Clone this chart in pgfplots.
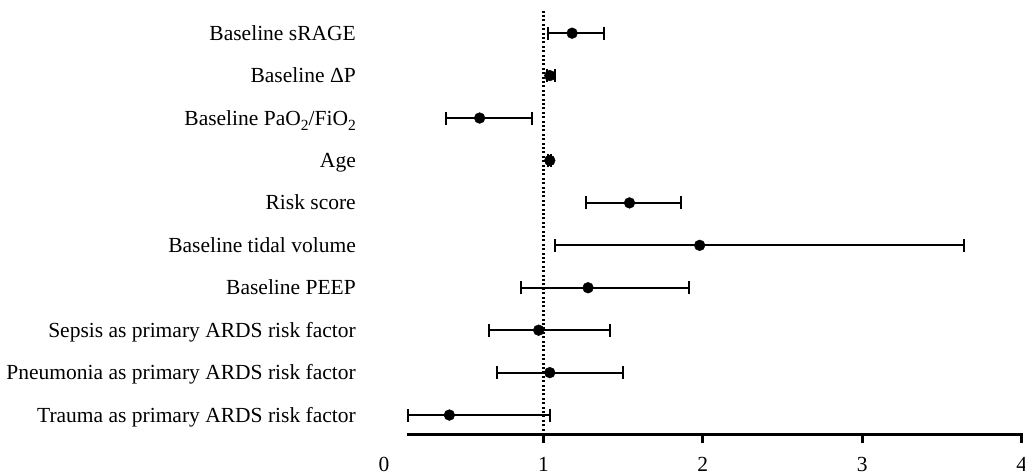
\documentclass[border=0pt]{standalone}
\usepackage{fontspec}
\setmainfont{Liberation Serif}
\usepackage{pgfplots}
\pgfplotsset{compat=1.18}
\usepackage{pgfplotstable}
\newcommand\sub[1]{\raisebox{-0.25em}{\fontsize{15.5}{15.5}\selectfont #1}}

\pgfplotstableread{
y x ep em
1 0.41 0.63 0.26
2 1.04 0.46 0.33
3 0.97 0.45 0.31
4 1.28 0.63 0.42
5 1.98 1.66 0.91
6 1.54 0.32 0.27
7 1.04 0.01 0.01
8 0.60 0.33 0.21
9 1.04 0.03 0.02
10 1.18 0.20 0.15
}\data

\begin{document}
\begin{tikzpicture}
\useasboundingbox (0,0) rectangle (1025pt,476pt);
\begin{axis}[
  at={(384pt,41pt)}, anchor=south west,
  scale only axis, width=637.7pt, height=426pt,
  xmin=0, xmax=4, ymin=0.53, ymax=10.57,
  axis line style={draw=none},
  axis x line*=bottom, axis y line*=left,
  xtick={1,2,3,4}, extra x ticks={0},
  extra x tick style={tick style={draw=none}},
  tick align=outside, major tick length=8pt,
  x tick style={line width=3pt, black},
  ytick={1,...,10}, y tick style={draw=none},
  yticklabels={Trauma as primary ARDS risk factor,
    Pneumonia as primary ARDS risk factor,
    Sepsis as primary ARDS risk factor,
    Baseline PEEP,
    Baseline tidal volume,
    Risk score,
    Age,
    {Baseline PaO\sub{2}/FiO\sub{2}},
    Baseline ΔP,
    Baseline sRAGE},
  ticklabel style={font=\fontsize{21.5}{25}\selectfont},
  /pgf/number format/assume math mode=true,
  yticklabel style={anchor=base east, inner sep=0pt, xshift=-20pt, yshift=-7pt},
  xticklabel style={anchor=base, inner sep=0pt, yshift=-29pt},
  clip=false,
]
\addplot[black, line width=2.2pt, dash pattern=on 1.9pt off 2.5pt] coordinates {(1,0.53) (1,10.57)};
\addplot[black, only marks, mark=*, mark size=5.4pt,
  error bars/.cd, x dir=both, x explicit,
  error mark=|,
  error bar style={line width=2pt, black},
  error mark options={line width=2pt, mark size=6.5pt, black}]
  table[x=x, y=y, x error plus=ep, x error minus=em]{\data};
\draw[line width=3pt, black] (axis cs:0.146,0.53) -- (axis cs:4.01,0.53);
\end{axis}
\end{tikzpicture}
\end{document}
